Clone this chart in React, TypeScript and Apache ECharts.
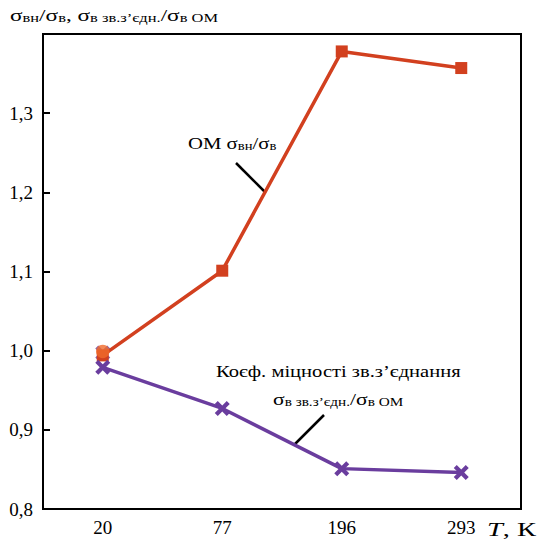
import React, { useEffect, useRef } from "react";
import * as echarts from "echarts";

const categories = ["20", "77", "196", "293"];
const omRatio = [0.994, 1.101, 1.378, 1.357];
const jointCoef = [0.979, 0.927, 0.851, 0.846];
const extraJointAt20 = [[0, 0.997]];
const extraOmAt20 = [[0, 0.999]];

const RED = "#d2401f";
const PURPLE = "#6a3d9e";
const ORANGE = "#f06a2a";
const FONT = "'Liberation Serif', 'Times New Roman', serif";
const X_SYMBOL =
  "path://M2,0 L5,3 L8,0 L10,2 L7,5 L10,8 L8,10 L5,7 L2,10 L0,8 L3,5 L0,2 Z";

const tok = (size: number, lh: number, extra: any = {}) => ({
  fontSize: size,
  lineHeight: lh,
  verticalAlign: "bottom",
  fontFamily: FONT,
  fill: "#000",
  ...extra,
});
const rich = {
  s: tok(17, 20),
  b: tok(12, 12),
  i: tok(18, 20, { fontStyle: "italic" }),
  t: tok(18, 20),
};

export default function App() {
  const ref = useRef<HTMLDivElement>(null);
  useEffect(() => {
    if (!ref.current) return;
    const chart = echarts.init(ref.current, null, { renderer: "svg" });
    chart.setOption({
      animation: false,
      backgroundColor: "#fff",
      grid: {
        left: 43,
        right: 17,
        top: 34,
        bottom: 30,
        show: true,
        borderColor: "#000",
        borderWidth: 2,
      },
      xAxis: {
        type: "category",
        data: categories,
        boundaryGap: true,
        axisLine: { lineStyle: { color: "#000", width: 2 } },
        axisTick: { inside: true, alignWithLabel: true, length: 8, lineStyle: { color: "#000", width: 2 } },
        axisLabel: { color: "#000", fontSize: 19, fontFamily: FONT, margin: 9 },
        splitLine: { show: false },
      },
      yAxis: {
        type: "value",
        min: 0.8,
        max: 1.4,
        interval: 0.1,
        axisLine: { show: true, lineStyle: { color: "#000", width: 2 } },
        axisTick: { show: true, inside: true, length: 7, lineStyle: { color: "#000", width: 2 } },
        axisLabel: {
          color: "#000",
          fontSize: 19,
          fontFamily: FONT,
          margin: 10,
          formatter: (v: number) => {
            const r = Math.round(v * 10) / 10;
            if (r >= 1.4) return "";
            return r.toFixed(1).replace(".", ",");
          },
        },
        splitLine: { show: false },
      },
      series: [
        {
          type: "scatter",
          data: extraJointAt20,
          symbol: X_SYMBOL,
          symbolSize: 15,
          itemStyle: { color: PURPLE },
          z: 1,
        },
        {
          type: "line",
          data: omRatio,
          symbol: "rect",
          symbolSize: 12,
          lineStyle: { color: RED, width: 3.5 },
          itemStyle: { color: RED },
          z: 2,
        },
        {
          type: "line",
          data: jointCoef,
          symbol: X_SYMBOL,
          symbolSize: 15,
          lineStyle: { color: PURPLE, width: 3.5 },
          itemStyle: { color: PURPLE },
          z: 3,
        },
        {
          type: "scatter",
          data: extraOmAt20,
          symbol: "circle",
          symbolSize: 13.5,
          itemStyle: { color: ORANGE },
          z: 4,
        },
      ],
      graphic: [
        {
          type: "text",
          x: 10,
          y: 4,
          scaleX: 1.37,
          style: {
            text: "{s|σ}{b|вн}{s|/σ}{b|в}{s|, σ}{b|в зв.з’єдн.}{s|/σ}{b|в ОМ}",
            rich,
          },
        },
        {
          type: "text",
          x: 188,
          y: 132,
          scaleX: 1.22,
          style: {
            text: "{s|ОМ σ}{b|вн}{s|/σ}{b|в}",
            rich,
          },
        },
        {
          type: "line",
          shape: { x1: 236, y1: 163, x2: 265, y2: 192 },
          style: { stroke: "#000", lineWidth: 2.5 },
        },
        {
          type: "text",
          x: 216,
          y: 360,
          scaleX: 1.21,
          style: {
            text: "{s|Коєф. міцності зв.з’єднання}",
            rich,
          },
        },
        {
          type: "text",
          x: 273,
          y: 388,
          scaleX: 1.27,
          style: {
            text: "{s|σ}{b|в зв.з’єдн.}{s|/σ}{b|в ОМ}",
            rich,
          },
        },
        {
          type: "line",
          shape: { x1: 324, y1: 415, x2: 294, y2: 445 },
          style: { stroke: "#000", lineWidth: 2.5 },
        },
        {
          type: "text",
          x: 487,
          y: 519,
          scaleX: 1.58,
          style: {
            text: "{i|T}{t|, К}",
            rich,
          },
        },
      ],
    });
    return () => chart.dispose();
  }, []);
  return <div ref={ref} style={{ width: 538, height: 539, position: "absolute", left: 0, top: 0 }} />;
}
